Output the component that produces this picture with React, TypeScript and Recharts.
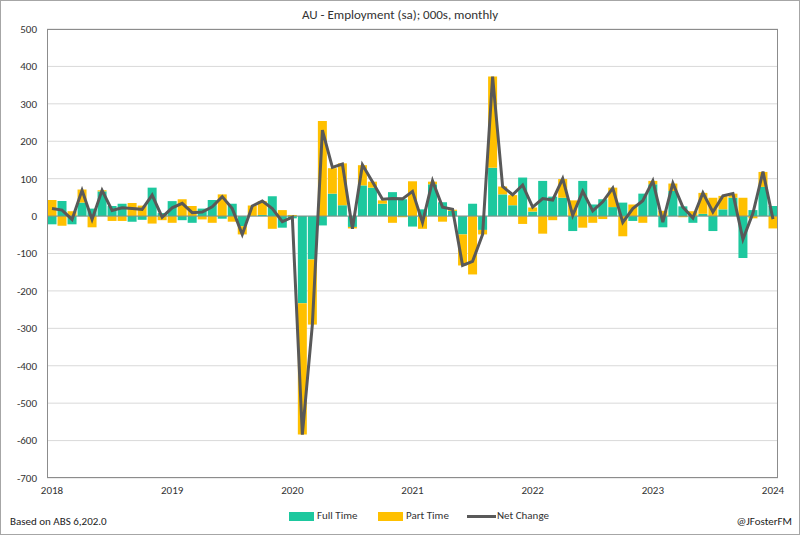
import React from "react";
import {
  ComposedChart,
  Bar,
  Line,
  XAxis,
  YAxis,
  CartesianGrid,
  ReferenceLine,
} from "recharts";

const years = [2018, 2019, 2020, 2021, 2022, 2023, 2024];

const fullTime = [
  -22, 40, -22, 36, 20, 66, 27, 33, -15, -10, 76, 8,
  40, -11, -18, 20, 43, -7, 33, -27, 0, 3, 53, -31,
  -6, -233, -116, -25, 60, 29, -29, 82, 76, 33, 64, 45,
  -28, 18, 85, 37, 14, -49, 33, -37, 129, 58, 29, 103,
  12, 94, 52, 49, -40, 94, 31, 45, 24, 36, -13, 60,
  85, -30, 67, 26, -18, 6, -40, 18, 49, -112, 16, 78,
  27,
];

const partTime = [
  43, -26, 13, 35, -30, 3, -13, -13, 35, 28, -20, -11,
  -18, 45, 27, -9, -18, 58, -15, -22, 28, 37, -34, 16,
  3, -351, -174, 254, 68, 112, -4, 54, 16, 9, -18, -3,
  93, -34, 7, -15, 3, -83, -156, -12, 244, 21, 27, -21,
  11, -47, -11, 50, 42, -31, -18, -8, 52, -54, 31, -18,
  9, 14, 20, -3, 13, 56, 49, 36, 11, 49, -6, 40,
  -33,
];

const netChange = [
  20, 16, -9, 69, -9, 69, 15, 22, 20, 18, 56, -3,
  22, 34, 9, 11, 25, 52, 20, -49, 27, 40, 20, -15,
  -3, -584, -290, 230, 130, 139, -34, 137, 92, 45, 47, 46,
  66, -17, 94, 24, 18, -132, -121, -49, 373, 79, 57, 83,
  24, 47, 43, 100, 2, 66, 14, 38, 75, -17, 20, 41,
  94, -16, 88, 24, -5, 62, 11, 54, 60, -62, 8, 119,
  -8,
];

const yTicks = [500, 400, 300, 200, 100, 0, -100, -200, -300, -400, -500, -600, -700];

const months = fullTime.map((_, i) => {
  const y = years[0] + Math.floor(i / 12);
  const m = (i % 12) + 1;
  return `${y}-${m < 10 ? "0" + m : m}`;
});

const data = months.map((month, i) => ({
  month,
  ft: fullTime[i],
  pt: partTime[i],
  net: netChange[i],
}));

const TEAL = "#1DC89E";
const GOLD = "#FFC000";
const LINE = "#595959";
const FONT = "Carlito, 'Liberation Sans', Arial, sans-serif";

export default function App() {
  return (
    <div
      style={{
        position: "absolute",
        left: 0,
        top: 0,
        width: 800,
        height: 535,
        background: "#fff",
        fontFamily: FONT,
      }}
    >
      <div
        style={{
          position: "absolute",
          left: 0,
          top: 0,
          width: 798,
          height: 533,
          border: "1px solid #A6A6A6",
        }}
      />
      <div
        style={{
          position: "absolute",
          left: 0,
          width: 800,
          top: 7,
          textAlign: "center",
          fontSize: 13,
          color: "#333",
        }}
      >
        AU - Employment (sa); 000s, monthly
      </div>
      <div style={{ position: "absolute", left: 0, top: 0 }}>
        <ComposedChart
          width={800}
          height={535}
          data={data}
          stackOffset="sign"
          barCategoryGap="5%"
          margin={{ top: 29, right: 22, bottom: 27, left: 0 }}
        >
          <CartesianGrid vertical={false} stroke="#D9D9D9" />
          <XAxis
            dataKey="month"
            interval={11}
            tickFormatter={(v: string) => v.slice(0, 4)}
            axisLine={false}
            tickLine={false}
            tickSize={4}
            tickMargin={4}
            height={30}
            tick={{ fontSize: 11, fill: "#333", fontFamily: FONT }}
          />
          <YAxis
            domain={[-700, 500]}
            ticks={yTicks}
            interval={0}
            width={47}
            axisLine={false}
            tickLine={false}
            tickSize={5}
            tickMargin={5}
            tick={{ fontSize: 11, fill: "#333", fontFamily: FONT }}
          />
          <Bar dataKey="ft" stackId="a" fill={TEAL} isAnimationActive={false} />
          <Bar dataKey="pt" stackId="a" fill={GOLD} isAnimationActive={false} />
          <ReferenceLine y={0} stroke="#7F8F88" strokeWidth={1} />
          <Line
            dataKey="net"
            type="linear"
            stroke={LINE}
            strokeWidth={3}
            dot={false}
            isAnimationActive={false}
          />
        </ComposedChart>
      </div>
      <div
        style={{
          position: "absolute",
          left: 47,
          top: 29,
          width: 731,
          height: 449,
          border: "1px solid #8C8C8C",
          boxSizing: "border-box",
          pointerEvents: "none",
        }}
      />
      <div
        style={{
          position: "absolute",
          top: 509,
          left: 0,
          width: 800,
          height: 16,
          fontSize: 11,
          color: "#333",
        }}
      >
        <div style={{ position: "absolute", left: 289, top: 3, width: 25, height: 9, background: TEAL }} />
        <div style={{ position: "absolute", left: 317, top: 0 }}>Full Time</div>
        <div style={{ position: "absolute", left: 378, top: 3, width: 25, height: 9, background: GOLD }} />
        <div style={{ position: "absolute", left: 406, top: 0 }}>Part Time</div>
        <div style={{ position: "absolute", left: 467, top: 6, width: 29, height: 3, background: LINE }} />
        <div style={{ position: "absolute", left: 497, top: 0 }}>Net Change</div>
      </div>
      <div style={{ position: "absolute", left: 10, top: 515, fontSize: 11, color: "#222" }}>
        Based on ABS 6,202.0
      </div>
      <div style={{ position: "absolute", right: 8, top: 515, fontSize: 11, color: "#222" }}>
        @JFosterFM
      </div>
    </div>
  );
}
